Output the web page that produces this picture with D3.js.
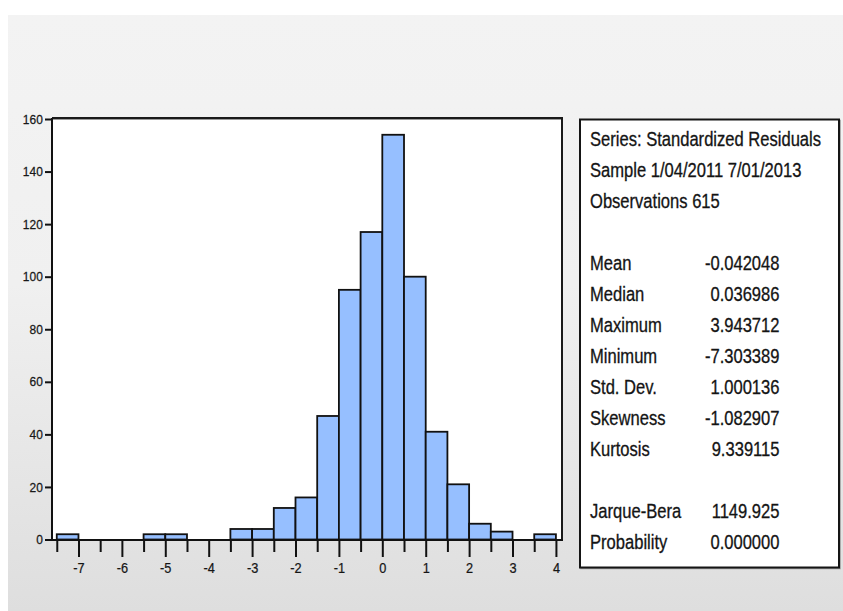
<!DOCTYPE html>
<html>
<head>
<meta charset="utf-8">
<script src="https://cdn.jsdelivr.net/npm/d3@7/dist/d3.min.js"></script>
<style>
  html, body { margin: 0; padding: 0; background: #ffffff; }
  svg { display: block; }
  text { font-family: "Liberation Sans", Arial, Helvetica, sans-serif; fill: #141414; }
</style>
</head>
<body>
<svg id="chart" width="843" height="611"></svg>
<script>
// ---- data ----
const binStarts = [-7.5, -7, -6.5, -6, -5.5, -5, -4.5, -4, -3.5, -3, -2.5, -2, -1.5, -1, -0.5, 0, 0.5, 1, 1.5, 2, 2.5, 3, 3.5];
const counts    = [2, 0, 0, 0, 2, 2, 0, 0, 4, 4, 12, 16, 47, 95, 117, 154, 100, 41, 21, 6, 3, 0, 2];
const binWidth = 0.5;
const xMajorTicks = [-7, -6, -5, -4, -3, -2, -1, 0, 1, 2, 3, 4];
const xMinorTicks = [-7.5, -6.5, -5.5, -4.5, -3.5, -2.5, -1.5, -0.5, 0.5, 1.5, 2.5, 3.5];
const yTicks = [0, 20, 40, 60, 80, 100, 120, 140, 160];
const statHeader = ["Series: Standardized Residuals", "Sample 1/04/2011 7/01/2013", "Observations 615"];
const statLabels = ["Mean", "Median", "Maximum", "Minimum", "Std. Dev.", "Skewness", "Kurtosis"];
const statValues = ["-0.042048", "0.036986", "3.943712", "-7.303389", "1.000136", "-1.082907", "9.339115"];
const testLabels = ["Jarque-Bera", "Probability"];
const testValues = ["1149.925", "0.000000"];

// ---- layout ----
const svg = d3.select("#chart");
const plot = { left: 52, right: 562, top: 118, bottom: 540 };

// background panel
const defs = svg.append("defs");
const grad = defs.append("linearGradient").attr("id", "bg").attr("x1", 0).attr("y1", 0).attr("x2", 0).attr("y2", 1);
grad.append("stop").attr("offset", "0%").attr("stop-color", "#f3f3f3");
grad.append("stop").attr("offset", "45%").attr("stop-color", "#f0f0f0");
grad.append("stop").attr("offset", "100%").attr("stop-color", "#dedede");
svg.append("rect").attr("x", 8).attr("y", 15).attr("width", 835).attr("height", 596).attr("fill", "url(#bg)");

const x = d3.scaleLinear().domain([-7.61, 4.14]).range([plot.left, plot.right]);
const y = d3.scaleLinear().domain([0, 160]).range([539.5, 119]);

// plot area
svg.append("rect")
  .attr("x", plot.left).attr("y", plot.top)
  .attr("width", plot.right - plot.left).attr("height", plot.bottom - plot.top)
  .attr("fill", "#ffffff");

// bars
svg.append("g").selectAll("rect")
  .data(binStarts.map((s, i) => ({ s, c: counts[i] })).filter(d => d.c > 0))
  .join("rect")
  .attr("x", d => x(d.s))
  .attr("y", d => y(d.c))
  .attr("width", d => x(d.s + binWidth) - x(d.s))
  .attr("height", d => y(0) - y(d.c))
  .attr("fill", "#96bfff")
  .attr("stroke", "#111")
  .attr("stroke-width", 1.8);

// frame (top and right) with soft shadow
svg.append("line").attr("x1", plot.left).attr("x2", plot.right + 1).attr("y1", plot.top + 1.5).attr("y2", plot.top + 1.5)
  .attr("stroke", "#9a9a9a").attr("stroke-width", 1);
svg.append("line").attr("x1", plot.left).attr("x2", plot.right + 1).attr("y1", plot.top).attr("y2", plot.top)
  .attr("stroke", "#1a1a1a").attr("stroke-width", 2);
svg.append("line").attr("x1", plot.right).attr("x2", plot.right).attr("y1", plot.top).attr("y2", plot.bottom)
  .attr("stroke", "#1a1a1a").attr("stroke-width", 2);

// y axis
const yAxis = d3.axisLeft(y).tickValues(yTicks).tickSize(7).tickPadding(3).tickSizeOuter(0);
const gy = svg.append("g").attr("transform", `translate(${plot.left},0)`).call(yAxis);
gy.attr("font-size", null);
gy.select(".domain").attr("d", `M0,${plot.top}V${plot.bottom + 1}`).attr("stroke", "#111").attr("stroke-width", 2);
gy.selectAll(".tick line").attr("stroke", "#111").attr("stroke-width", 2);
gy.selectAll(".tick text").style("font-size", "13px").attr("fill", "#1e1e1e")
  .attr("stroke", "#1e1e1e").attr("stroke-width", 0.25)
  .attr("font-family", '"Liberation Sans", Arial, sans-serif')
  .attr("transform", "scale(0.92,1)");

// x axis: minor ticks then major ticks with labels
const xMinor = d3.axisBottom(x).tickValues(xMinorTicks).tickSize(12).tickFormat("").tickSizeOuter(0);
const gxm = svg.append("g").attr("transform", `translate(0,${plot.bottom})`).call(xMinor);
gxm.select(".domain").remove();
gxm.selectAll(".tick line").attr("stroke", "#111").attr("stroke-width", 2);

const xMajor = d3.axisBottom(x).tickValues(xMajorTicks).tickSize(17).tickPadding(5).tickSizeOuter(0)
  .tickFormat(d3.format("d"));
const gx = svg.append("g").attr("transform", `translate(0,${plot.bottom})`).call(xMajor);
gx.attr("font-size", null);
gx.select(".domain").attr("d", `M${plot.left - 1},0H${plot.right + 1}`).attr("stroke", "#111").attr("stroke-width", 2);
gx.selectAll(".tick line").attr("stroke", "#111").attr("stroke-width", 2);
gx.selectAll(".tick text").style("font-size", "15px").attr("fill", "#1e1e1e")
  .attr("stroke", "#1e1e1e").attr("stroke-width", 0.25)
  .attr("font-family", '"Liberation Sans", Arial, sans-serif')
  .text(d => d < 0 ? "-" + Math.abs(d) : String(d))
  .attr("transform", "scale(0.85,1)");

// ---- statistics box ----
const box = { x: 580, y: 119.5, w: 259, h: 448 };
svg.append("rect").attr("x", box.x + 1).attr("y", box.y + 1).attr("width", box.w).attr("height", box.h)
  .attr("fill", "none").attr("stroke", "#9a9a9a").attr("stroke-width", 1.5);
svg.append("rect").attr("x", box.x).attr("y", box.y).attr("width", box.w).attr("height", box.h)
  .attr("fill", "#ffffff").attr("stroke", "#151515").attr("stroke-width", 2);

const lineH = 31;
const firstBaseline = 146;
const labelX = 590;
const valueX = 779.5;
const fs = 19.5;
const sx = 0.85;

const rows = [];
statHeader.forEach((t, i) => rows.push({ idx: i, label: t, value: null }));
statLabels.forEach((t, i) => rows.push({ idx: 4 + i, label: t, value: statValues[i] }));
testLabels.forEach((t, i) => rows.push({ idx: 12 + i, label: t, value: testValues[i] }));

const gs = svg.append("g").attr("stroke", "#141414").attr("stroke-width", 0.3);
gs.selectAll("text.lab").data(rows).join("text")
  .attr("class", "lab")
  .attr("transform", d => `translate(${labelX},${firstBaseline + d.idx * lineH}) scale(${sx},1)`)
  .attr("font-size", fs)
  .text(d => d.label);
gs.selectAll("text.val").data(rows.filter(d => d.value !== null)).join("text")
  .attr("class", "val")
  .attr("transform", d => `translate(${valueX},${firstBaseline + d.idx * lineH}) scale(${sx},1)`)
  .attr("font-size", fs)
  .attr("text-anchor", "end")
  .text(d => d.value);
</script>
</body>
</html>
